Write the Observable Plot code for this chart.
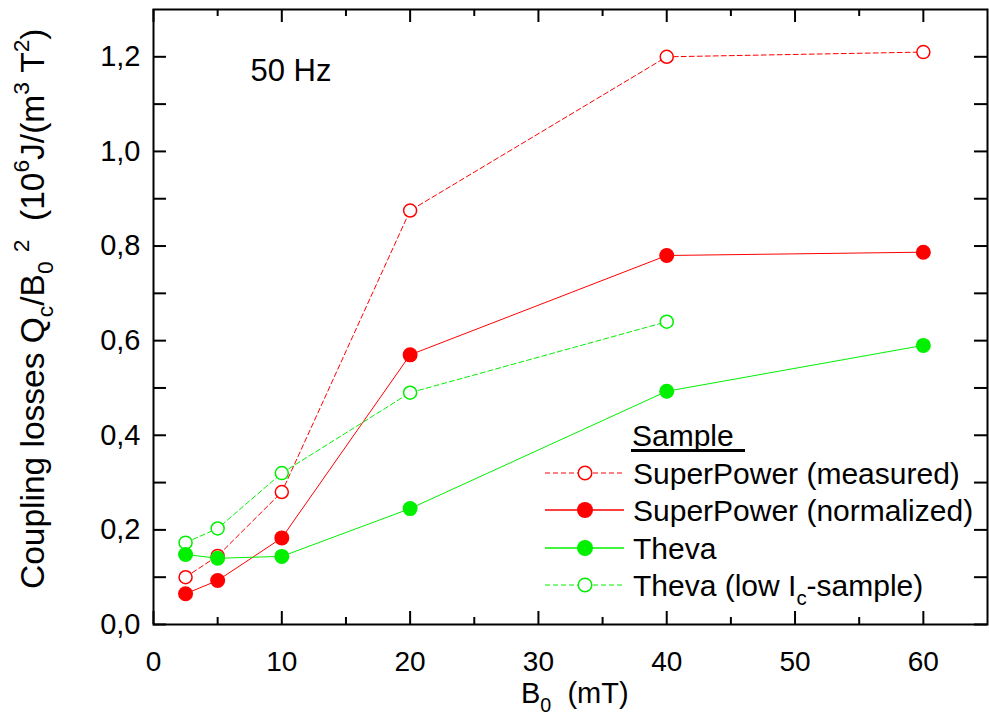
<!DOCTYPE html>
<html>
<head>
<meta charset="utf-8">
<script src="https://cdn.jsdelivr.net/npm/d3@7"></script>
<script src="https://cdn.jsdelivr.net/npm/@observablehq/plot@0.6"></script>
<style>
  html, body { margin: 0; padding: 0; background: #fff; }
  #chart svg { display: block; }
</style>
</head>
<body>
<div id="chart"></div>
<script>
// ---- data ----
const B0 = [2.5, 5, 10, 20, 40, 60];
const spMeasured   = [0.100, 0.145, 0.280, 0.875, 1.200, 1.210];
const spNormalized = [0.065, 0.093, 0.183, 0.570, 0.780, 0.787];
const theva        = [0.148, 0.140, 0.144, 0.245, 0.493, 0.590];
const B0low = [2.5, 5, 10, 20, 40];
const thevaLowIc   = [0.173, 0.203, 0.320, 0.490, 0.640];

const xMajorTicks = [0, 10, 20, 30, 40, 50, 60];
const xMinorTicks = [5, 15, 25, 35, 45, 55];
const yLabelTicks = [0, 0.2, 0.4, 0.6, 0.8, 1.0, 1.2];
const yAllTicks   = [0, 0.1, 0.2, 0.3, 0.4, 0.5, 0.6, 0.7, 0.8, 0.9, 1.0, 1.1, 1.2];

const seriesNames = ["SuperPower (measured)", "SuperPower (normalized)", "Theva", "Theva (low I_c-sample)"];
const RED = "#ff0000", GREEN = "#00f000";

const toRows = (xs, ys, name) => xs.map((x, i) => ({x, y: ys[i], name}));
const rowsSPm = toRows(B0, spMeasured, seriesNames[0]);
const rowsSPn = toRows(B0, spNormalized, seriesNames[1]);
const rowsTh  = toRows(B0, theva, seriesNames[2]);
const rowsThL = toRows(B0low, thevaLowIc, seriesNames[3]);

// ---- layout ----
const W = 989, H = 726;
const mL = 153, mR = 2, mT = 9, mB = 102;
const innerW = W - mL - mR, innerH = H - mT - mB;
const FONT = "'Liberation Sans', Arial, Helvetica, sans-serif";
const majorLen = 13, minorLen = 7, yTickLen = 13;

const plot = Plot.plot({
  width: W, height: H,
  marginLeft: mL, marginRight: mR, marginTop: mT, marginBottom: mB,
  style: {fontFamily: FONT, background: "white", overflow: "visible"},
  x: {domain: [0, 65]},
  y: {domain: [0, 1.3]},
  marks: [
    // tick labels
    Plot.axisX(xMajorTicks, {anchor: "bottom", tickSize: 0, tickPadding: 27, fontSize: 28, tickFormat: d => String(d), label: null}),
    Plot.axisY(yLabelTicks, {anchor: "left", tickSize: 0, tickPadding: 13, fontSize: 29, tickFormat: d => d.toFixed(1).replace(".", ","), label: null}),
    // inward ticks, bottom & top
    Plot.ruleX(xMajorTicks, {x: d => d, insetTop: innerH - majorLen, stroke: "black", strokeWidth: 2}),
    Plot.ruleX(xMinorTicks, {x: d => d, insetTop: innerH - minorLen, stroke: "black", strokeWidth: 2}),
    Plot.ruleX(xMajorTicks, {x: d => d, insetBottom: innerH - majorLen, stroke: "black", strokeWidth: 2}),
    Plot.ruleX(xMinorTicks, {x: d => d, insetBottom: innerH - minorLen, stroke: "black", strokeWidth: 2}),
    // inward ticks, left & right
    Plot.ruleY(yAllTicks, {y: d => d, insetRight: innerW - yTickLen, stroke: "black", strokeWidth: 2}),
    Plot.ruleY(yAllTicks, {y: d => d, insetLeft: innerW - yTickLen, stroke: "black", strokeWidth: 2}),
    Plot.frame({stroke: "black", strokeWidth: 2}),
    // series lines
    Plot.line(rowsSPm, {x: "x", y: "y", stroke: RED, strokeWidth: 1, strokeDasharray: "5,3"}),
    Plot.line(rowsSPn, {x: "x", y: "y", stroke: RED, strokeWidth: 1}),
    Plot.line(rowsTh,  {x: "x", y: "y", stroke: GREEN, strokeWidth: 1}),
    Plot.line(rowsThL, {x: "x", y: "y", stroke: GREEN, strokeWidth: 1, strokeDasharray: "5,3"}),
    // markers
    Plot.dot(rowsSPm, {x: "x", y: "y", r: 6.5, fill: "white", stroke: RED, strokeWidth: 1.5}),
    Plot.dot(rowsThL, {x: "x", y: "y", r: 6.5, fill: "white", stroke: GREEN, strokeWidth: 1.5}),
    Plot.dot(rowsSPn, {x: "x", y: "y", r: 7.5, fill: RED, stroke: "none"}),
    Plot.dot(rowsTh,  {x: "x", y: "y", r: 7.5, fill: GREEN, stroke: "none"}),
    // annotation
    Plot.text(["50 Hz"], {frameAnchor: "top-left", dx: 97, dy: 49, text: d => d, fontSize: 31, textAnchor: "start", lineAnchor: "top", fill: "black"})
  ]
});

document.getElementById("chart").appendChild(plot);

const svg = d3.select(plot);

function addRuns(textSel, runs, subDy = 8, supDy = -13) {
  let shift = 0;
  runs.forEach(([s, kind]) => {
    const target = kind === "sub" ? subDy : kind === "sup" ? supDy : 0;
    const t = textSel.append("tspan").text(s).attr("dy", target - shift);
    if (kind) t.attr("font-size", "0.68em");
    shift = target;
  });
}

// y axis title with sub/superscripts
const yt = svg.append("text")
  .attr("transform", "translate(44,589) rotate(-90)")
  .attr("font-family", FONT).attr("font-size", 33.5).attr("fill", "black")
  .attr("text-anchor", "start");
addRuns(yt, [
  ["Coupling losses Q", null], ["c", "sub"], ["/B", null], ["0", "sub"], ["\u2009\u20092", "sup"],
  ["\u00a0\u00a0(10", null], ["6", "sup"], ["J/(m", null], ["3", "sup"], ["\u00a0T", null], ["2", "sup"], [")", null]
], 9, -15);

// x axis title
const xt = svg.append("text")
  .attr("x", 521).attr("y", 703)
  .attr("font-family", FONT).attr("font-size", 29).attr("fill", "black")
  .attr("text-anchor", "start");
addRuns(xt, [["B", null], ["0", "sub"], ["\u00a0\u00a0(mT)", null]], 9, -13);

// legend
const lg = svg.append("g").attr("font-family", FONT).attr("font-size", 30).attr("text-anchor", "start");
lg.append("text").attr("x", 632).attr("y", 446).text("Sample");
lg.append("line").attr("x1", 631).attr("x2", 745).attr("y1", 450.5).attr("y2", 450.5).attr("stroke", "black").attr("stroke-width", 3);
const legendRows = [
  {label: [["SuperPower (measured)", null]], color: RED, dash: "5,3", open: true, y: 473},
  {label: [["SuperPower (normalized)", null]], color: RED, dash: null, open: false, y: 510},
  {label: [["Theva", null]], color: GREEN, dash: null, open: false, y: 548},
  {label: [["Theva (low I", null], ["c", "sub"], ["-sample)", null]], color: GREEN, dash: "5,3", open: true, y: 585}
];
legendRows.forEach(r => {
  const ln = lg.append("line").attr("x1", 545).attr("x2", 624).attr("y1", r.y).attr("y2", r.y)
    .attr("stroke", r.color).attr("stroke-width", r.open ? 1 : 1.5);
  if (r.dash) ln.attr("stroke-dasharray", r.dash);
  lg.append("circle").attr("cx", 585).attr("cy", r.y).attr("r", r.open ? 6.8 : 8)
    .attr("fill", r.open ? "white" : r.color).attr("stroke", r.open ? r.color : "none").attr("stroke-width", 1.5);
  const t = lg.append("text").attr("x", 633).attr("y", r.y + 10.5);
  addRuns(t, r.label, 9, -13);
});
</script>
</body>
</html>
